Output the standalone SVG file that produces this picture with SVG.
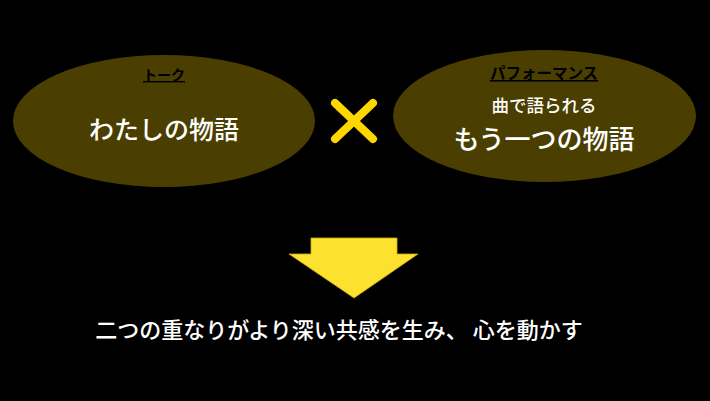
<svg xmlns="http://www.w3.org/2000/svg" width="710" height="401" viewBox="0 0 710 401">
<style>
.ell{fill:#4a3e00;}
.lbl{font-family:"Noto Sans CJK JP","Noto Sans",sans-serif;fill:#000;text-anchor:middle;font-weight:bold;text-decoration:underline;}
.t{font-family:"Noto Sans CJK JP","Noto Sans",sans-serif;fill:#fff;text-anchor:middle;font-weight:500;}
</style>
<rect x="0" y="0" width="710" height="401" fill="#000"/>
<g id="node-talk">
<ellipse class="ell" cx="164" cy="121" rx="151" ry="66"/>
<text class="lbl" x="164" y="80" font-size="14">トーク</text>
<text class="t" x="164" y="139" font-size="25">わたしの物語</text>
</g>
<g id="node-performance">
<ellipse class="ell" cx="544.5" cy="116" rx="151.5" ry="66"/>
<text class="lbl" x="544" y="79" font-size="15.5">パフォーマンス</text>
<text class="t" x="544" y="112" font-size="17.5">曲で語られる</text>
<text class="t" x="544" y="149" font-size="26">もう一つの物語</text>
</g>
<g id="connectors">
<g id="cross" stroke="#ffd700" stroke-width="8" stroke-linecap="round">
<line x1="335" y1="103" x2="373" y2="139"/>
<line x1="373" y1="103" x2="335" y2="139"/>
</g>
<polygon id="arrow" points="311,238 397,238 397,254 418,254 354,298 289,254 311,254" fill="#fde12f" stroke="#c9ae10" stroke-width="0.8"/>
</g>
<g id="node-result">
<text class="t" x="339" y="338" font-size="22">二つの重なりがより深い共感を生み、 心を動かす</text>
</g>
</svg>
